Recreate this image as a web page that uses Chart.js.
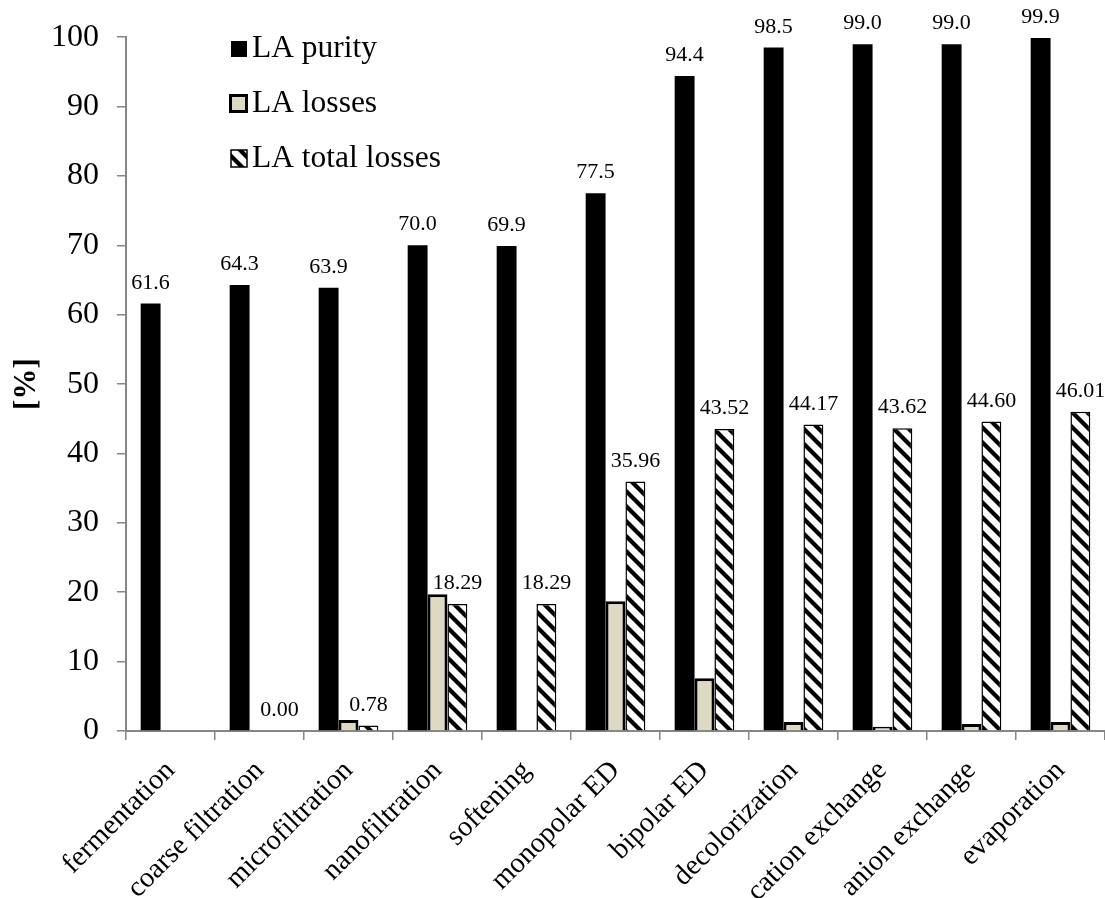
<!DOCTYPE html>
<html><head><meta charset="utf-8">
<script src="https://cdn.jsdelivr.net/npm/chart.js@4.4.0/dist/chart.umd.min.js"></script>
<style>html,body{margin:0;padding:0;background:#fff;overflow:hidden}#wrap{width:1105px;height:898px;position:relative}</style>
</head><body><div id="wrap"><canvas id="c"></canvas></div>
<script>
const categories = ['fermentation','coarse filtration','microfiltration','nanofiltration','softening','monopolar ED','bipolar ED','decolorization','cation exchange','anion exchange','evaporation'];
const purity = [61.6,64.3,63.9,70.0,69.9,77.5,94.4,98.5,99.0,99.0,99.9];
const losses = [null,null,1.6,19.7,null,18.7,7.6,1.3,0.6,1.0,1.3];
const totalLosses = [null,0.00,0.78,18.29,18.29,35.96,43.52,44.17,43.62,44.60,46.01];
const seriesNames = ['LA purity','LA losses','LA total losses'];
const yMin = 0, yMax = 100, yStep = 10;

const SERIF = '"Liberation Serif", "Times New Roman", serif';
const BEIGE = '#DDD9C3';
const AXIS = '#868686';

function makeHatch(){
  const N = 15;
  const c = document.createElement('canvas');
  c.width = N; c.height = N;
  const g = c.getContext('2d');
  g.fillStyle = '#fff'; g.fillRect(0,0,N,N);
  g.strokeStyle = '#000'; g.lineWidth = 4.2;
  for (let k=-1;k<=1;k++){
    g.beginPath(); g.moveTo(k*N - 2, -2); g.lineTo(k*N + N + 2, N + 2); g.stroke();
  }
  return g.createPattern(c,'repeat');
}
const hatch = makeHatch();

const labelPlugin = {
  id:'valueLabels',
  afterDatasetsDraw(chart){
    const ctx = chart.ctx;
    ctx.save();
    ctx.font = '22px ' + SERIF;
    ctx.fillStyle = '#000';
    ctx.textAlign = 'center';
    ctx.textBaseline = 'alphabetic';
    [[0,1],[2,2]].forEach(([di,dec])=>{
      const meta = chart.getDatasetMeta(di);
      const data = chart.data.datasets[di].data;
      meta.data.forEach((el,i)=>{
        const v = data[i];
        if (v === null || v === undefined) return;
        ctx.fillText(v.toFixed(dec), el.x, el.y - 15);
      });
    });
    ctx.restore();
  }
};

const legendPlugin = {
  id:'insideLegend',
  afterDraw(chart){
    const ctx = chart.ctx;
    ctx.save();
    ctx.font = '31.5px ' + SERIF;
    ctx.fillStyle = '#000';
    ctx.textBaseline = 'alphabetic';
    const x0 = 230, baseY = [57, 112, 167], sw = 16;
    ctx.fillStyle = '#000';
    ctx.fillRect(x0+1, baseY[0]-16, sw, sw);
    ctx.fillStyle = BEIGE;
    ctx.fillRect(x0, baseY[1]-17, 17, 17);
    ctx.strokeStyle = '#000'; ctx.lineWidth = 3;
    ctx.strokeRect(x0+0.5, baseY[1]-16.5, 16, 16);
    ctx.fillStyle = hatch;
    ctx.fillRect(x0+1, baseY[2]-17, 16, 17);
    ctx.strokeStyle = '#000'; ctx.lineWidth = 1.5;
    ctx.strokeRect(x0+1, baseY[2]-17, 16, 17);
    ctx.fillStyle = '#000';
    seriesNames.forEach((n,i)=> ctx.fillText(n, 252, baseY[i]));
    ctx.restore();
  }
};

new Chart(document.getElementById('c'), {
  type:'bar',
  data:{
    labels: categories,
    datasets:[
      {label:seriesNames[0], data:purity, backgroundColor:'#000', borderWidth:0},
      {label:seriesNames[1], data:losses, backgroundColor:BEIGE, borderColor:'#000', borderWidth:3, borderSkipped:'start'},
      {label:seriesNames[2], data:totalLosses, backgroundColor:hatch, borderColor:'#000', borderWidth:1.5, borderSkipped:'start'}
    ]
  },
  options:{
    responsive:true, maintainAspectRatio:false, animation:false,
    devicePixelRatio:1,
    layout:{padding:{top:37,left:0,right:0,bottom:0}},
    datasets:{bar:{categoryPercentage:0.67, barPercentage:1.0}},
    plugins:{legend:{display:false}, tooltip:{enabled:false}},
    scales:{
      x:{
        grid:{display:true, drawOnChartArea:false, drawTicks:true, tickLength:9, color:AXIS, lineWidth:1.5, offset:true},
        border:{display:true, color:AXIS, width:2},
        ticks:{color:'#000', font:{family:SERIF, size:28.5}, maxRotation:45, minRotation:45, padding:14, autoSkip:false},
        afterFit(s){ s.height = 898 - 731; }
      },
      y:{
        min:yMin, max:yMax,
        grid:{display:true, drawOnChartArea:false, drawTicks:true, tickLength:9, color:AXIS, lineWidth:1.5},
        border:{display:true, color:AXIS, width:2},
        ticks:{stepSize:yStep, color:'#000', font:{family:SERIF, size:32}, padding:18},
        title:{display:true, text:'[%]', color:'#000', font:{family:SERIF, size:31, weight:'bold'}, padding:{top:8,bottom:0}},
        afterFit(s){ s.width = 126; }
      }
    }
  },
  plugins:[labelPlugin, legendPlugin]
});
</script></body></html>
